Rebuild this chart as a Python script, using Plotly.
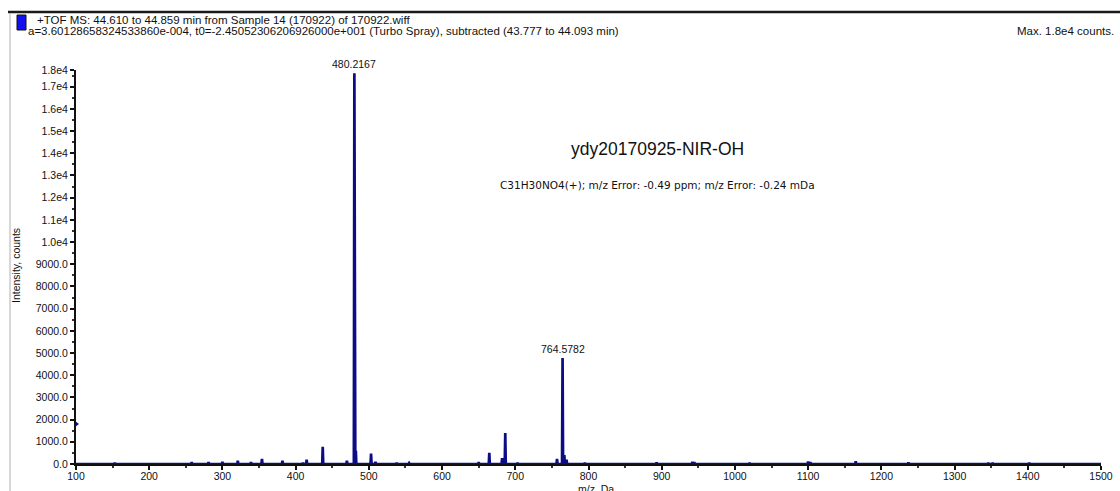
import plotly.graph_objects as go

# ---- spectrum data (m/z, intensity in counts) ----
peak_mz = [153.0, 258.0, 281.0, 300.0, 321.0, 339.0, 354.0, 382.0, 410.0, 415.0,
           437.0, 470.0, 480.2167, 482.2, 503.0, 509.0, 538.0, 555.0, 650.0, 664.5,
           682.0, 686.3, 703.0, 757.0, 764.5782, 767.0, 770.0, 795.0, 893.0, 942.0,
           944.5, 1020.0, 1100.0, 1103.0, 1165.0, 1237.0, 1346.0, 1352.0, 1402.0]
peak_int = [60, 80, 90, 100, 150, 80, 230, 150, 60, 200,
            770, 150, 17600, 600, 470, 100, 60, 40, 80, 500,
            270, 1400, 60, 230, 4780, 400, 200, 60, 70, 100,
            80, 60, 110, 80, 130, 70, 50, 50, 60]
labelled_peaks = [480.2167, 764.5782]

y_top = 17750
y_ticks = list(range(0, 18000, 1000))
y_ticktext = ["0.0" if v == 0 else (f"{v:.1f}" if v < 10000 else f"{v/1e4:.1f}e4") for v in y_ticks]
y_ticks.append(y_top)
y_ticktext.append("1.8e4")

header_1 = "+TOF MS: 44.610 to 44.859 min from Sample 14 (170922) of 170922.wiff"
header_2 = ("a=3.60128658324533860e-004, t0=-2.45052306206926000e+001 (Turbo Spray), "
            "subtracted (43.777 to 44.093 min)")
max_text = "Max. 1.8e4 counts."
sample_name = "ydy20170925-NIR-OH"
formula_text = "C31H30NO4(+); m/z Error: -0.49 ppm; m/z Error: -0.24 mDa"
x_title = "m/z, Da"
y_title = "Intensity, counts"

# ---- build a stick-profile trace from the peak list ----
half_w = 0.7
xs, ys = [100.0], [0.0]
for mz, inten in sorted(zip(peak_mz, peak_int)):
    xs += [mz - half_w, mz, mz + half_w]
    ys += [0, inten, 0]
xs.append(1500.0)
ys.append(0.0)

W, H = 1120, 491
L, R, T, B = 76, 19, 70, 27
pw, ph = W - L - R, H - T - B


def px(x):
    return (x - L) / pw


def py(y):
    return (H - B - y) / ph


fig = go.Figure()
fig.add_trace(go.Scatter(x=xs, y=ys, mode="lines",
                         line=dict(color="#0c0c86", width=2.7),
                         hoverinfo="skip", showlegend=False))
# small marker on the intensity axis
fig.add_trace(go.Scatter(x=[100], y=[1800], mode="markers",
                         marker=dict(symbol="triangle-right", size=6, color="#10107a"),
                         cliponaxis=False, showlegend=False, hoverinfo="skip"))

tick_font = dict(family="Liberation Sans, Arial, sans-serif", size=10.5, color="#111")
fig.update_xaxes(range=[100, 1500], tickvals=list(range(100, 1600, 100)),
                 automargin=False, ticklabelstandoff=-3,
                 showgrid=False, zeroline=False, showline=True, linecolor="#111",
                 linewidth=2, ticks="outside", ticklen=4, tickwidth=1.5, tickcolor="#111",
                 tickfont=tick_font,
                 minor=dict(ticks="outside", ticklen=2, dtick=50, tickcolor="#333"))
fig.update_yaxes(range=[0, y_top], tickvals=y_ticks, ticktext=y_ticktext,
                 automargin=False,
                 showgrid=False, zeroline=False, showline=True, linecolor="#111",
                 linewidth=2, ticks="outside", ticklen=4, tickwidth=1.5, tickcolor="#111",
                 tickfont=tick_font,
                 minor=dict(ticks="outside", ticklen=2, dtick=500, tickcolor="#333"))

ann = []
for mz in labelled_peaks:
    inten = peak_int[peak_mz.index(mz)]
    ann.append(dict(x=mz, y=inten, xref="x", yref="y", text=f"{mz:.4f}",
                    showarrow=False, yanchor="bottom", yshift=1,
                    font=dict(family="Liberation Sans, Arial", size=10.5, color="#111")))
header_font = dict(family="Liberation Sans, Arial", size=11.5, color="#111")
ann += [
    dict(x=px(657), y=py(149), xref="paper", yref="paper", text=sample_name,
         showarrow=False, xanchor="center", yanchor="middle",
         font=dict(family="Liberation Sans, Arial", size=17.5, color="#111")),
    dict(x=px(498), y=py(185), xref="paper", yref="paper", text=formula_text,
         showarrow=False, xanchor="left", yanchor="middle",
         font=dict(family="DejaVu Sans, Verdana", size=10.5, color="#111")),
    dict(x=px(35), y=py(20), xref="paper", yref="paper", text=header_1,
         showarrow=False, xanchor="left", yanchor="middle", font=header_font),
    dict(x=px(26), y=py(31), xref="paper", yref="paper", text=header_2,
         showarrow=False, xanchor="left", yanchor="middle", font=header_font),
    dict(x=px(1116), y=py(31), xref="paper", yref="paper", text=max_text,
         showarrow=False, xanchor="right", yanchor="middle", font=header_font),
    dict(x=px(16), y=py(266), xref="paper", yref="paper", text=y_title,
         showarrow=False, textangle=-90, xanchor="center", yanchor="middle",
         font=dict(family="Liberation Sans, Arial", size=10.5, color="#111")),
    dict(x=px(596), y=py(482), xref="paper", yref="paper", text=x_title,
         showarrow=False, xanchor="center", yanchor="top", borderpad=0,
         font=dict(family="Liberation Sans, Arial", size=10.5, color="#111")),
]

shapes = [
    dict(type="line", xref="paper", yref="paper", x0=px(8), x1=px(1120),
         y0=py(12), y1=py(12), line=dict(color="#1a1a1a", width=2.5)),
    dict(type="line", xref="paper", yref="paper", x0=px(10), x1=px(10),
         y0=py(13), y1=py(491), line=dict(color="#b0b0b0", width=1)),
    dict(type="rect", xref="paper", yref="paper", x0=px(17), x1=px(26),
         y0=py(15), y1=py(30), fillcolor="#1010f0", line=dict(color="#111", width=1)),
]

fig.update_layout(width=W, height=H, margin=dict(l=L, r=R, t=T, b=B),
                  paper_bgcolor="white", plot_bgcolor="white",
                  annotations=ann, shapes=shapes, showlegend=False)

fig.write_html("out.html")
